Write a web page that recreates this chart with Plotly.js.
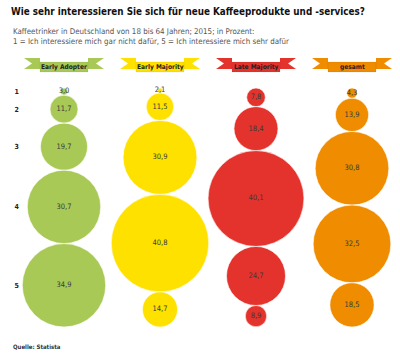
<!DOCTYPE html>
<html><head><meta charset="utf-8">
<script src="https://cdn.plot.ly/plotly-3.0.1.min.js"></script>
<style>html,body{margin:0;padding:0;background:#fff}#c{width:400px;height:364px}</style>
</head><body><div id="c"></div>
<script>
const groups = ["Early Adopter", "Early Majority", "Late Majority", "gesamt"];
const levels = ["1", "2", "3", "4", "5"];
const earlyAdopter  = [3.0, 11.7, 19.7, 30.7, 34.9];
const earlyMajority = [2.1, 11.5, 30.9, 40.8, 14.7];
const lateMajority  = [7.8, 18.4, 40.1, 24.7, 8.9];
const gesamt        = [4.3, 13.9, 30.8, 32.5, 18.5];
const series = [earlyAdopter, earlyMajority, lateMajority, gesamt];
const colors = ["#a9c957", "#ffe100", "#e4332d", "#f08c00"];

const K = 2.39;            // px per percentage point (diameter)
const PT = 80, PB = 340;   // plot top/bottom in px
const top0 = 88;           // stack top px
const fmt = v => v.toFixed(1).replace('.', ',');

function centers(vals){ let c=0; return vals.map(v=>{ const m=c+v/2; c+=v; return m; }); }

const traces = series.map((vals,i)=>({
  type:'scatter', mode:'markers+text',
  x: vals.map(()=>groups[i]), y: centers(vals),
  text: vals.map(fmt), textposition:'middle center',
  textfont:{family:'DejaVu Sans Condensed, Liberation Sans Narrow, sans-serif', size:7.5, color:'#3a3a3a'},
  marker:{size: vals.map(v=>v*K), sizemode:'diameter', color:colors[i], opacity:1, line:{color:'#ffffff', width:0.6}},
  hoverinfo:'skip', showlegend:false, cliponaxis:false
}));

const py = p => (PB - p)/(PB - PT);
const xu = px => px/96;
const shapes = [], annotations = [];
groups.forEach((g,i)=>{
  const c = i;
  const wl = [[-40,58],[-24,58],[-24,69],[-40,69],[-32,63.5]];
  const toPath = pts => 'M' + pts.map(p=>`${c+xu(p[0])},${py(p[1])}`).join(' L') + ' Z';
  shapes.push({type:'path', xref:'x', yref:'paper', path: toPath(wl), fillcolor:colors[i], line:{width:0}, layer:'above'});
  shapes.push({type:'path', xref:'x', yref:'paper', path: toPath(wl.map(p=>[-p[0],p[1]])), fillcolor:colors[i], line:{width:0}, layer:'above'});
  shapes.push({type:'path', xref:'x', yref:'paper', path: toPath([[-24,62],[24,62],[24,72],[-24,72]]), fillcolor:colors[i], line:{color:'rgba(0,0,0,0.12)', width:0.5}, layer:'above'});
  annotations.push({xref:'x', yref:'paper', x:c, y:py(67.2), text:'<b>'+g+'</b>', showarrow:false,
    xanchor:'center', yanchor:'middle', font:{family:'DejaVu Sans Condensed, sans-serif', size:6.6, color:'#222'}});
});

annotations.push({xref:'paper', yref:'paper', x:-9/380, y:py(25), xanchor:'left', yanchor:'top', align:'left', showarrow:false,
  text:'Kaffeetrinker in Deutschland von 18 bis 64 Jahren; 2015; in Prozent:<br>1 = Ich interessiere mich gar nicht dafür, 5 = Ich interessiere mich sehr dafür',
  font:{family:'DejaVu Sans Condensed, sans-serif', size:7.9, color:'#555'}});
annotations.push({xref:'paper', yref:'paper', x:-9/380, y:py(341), xanchor:'left', yanchor:'top', showarrow:false,
  text:'<b>Quelle: Statista</b>', font:{family:'DejaVu Sans Condensed, sans-serif', size:6, color:'#333'}});

const layout = {
  width:400, height:364,
  margin:{l:20, r:0, t:PT, b:364-PB},
  paper_bgcolor:'#fff', plot_bgcolor:'#fff',
  title:{text:'<b>Wie sehr interessieren Sie sich für neue Kaffeeprodukte und -services?</b>',
    x:11/400, xanchor:'left', xref:'container', y:1-8/364, yanchor:'top', yref:'container',
    font:{family:'DejaVu Sans Condensed, sans-serif', size:9.8, color:'#111'}},
  xaxis:{type:'category', categoryarray:groups, range:[-44/96, 336/96], showgrid:false, zeroline:false,
    showticklabels:false, showline:false, ticks:''},
  yaxis:{range:[(PB-top0)/K, -(top0-PT)/K], showgrid:false, zeroline:false, showline:false, ticks:'',
    tickvals: centers(earlyAdopter), ticktext: levels.map(l=>'<b>'+l+'</b>'),
    tickfont:{family:'DejaVu Sans Condensed, sans-serif', size:7, color:'#222'}, ticklabelstandoff:0},
  shapes, annotations
};
Plotly.newPlot('c', traces, layout, {staticPlot:true, displayModeBar:false});
</script></body></html>
